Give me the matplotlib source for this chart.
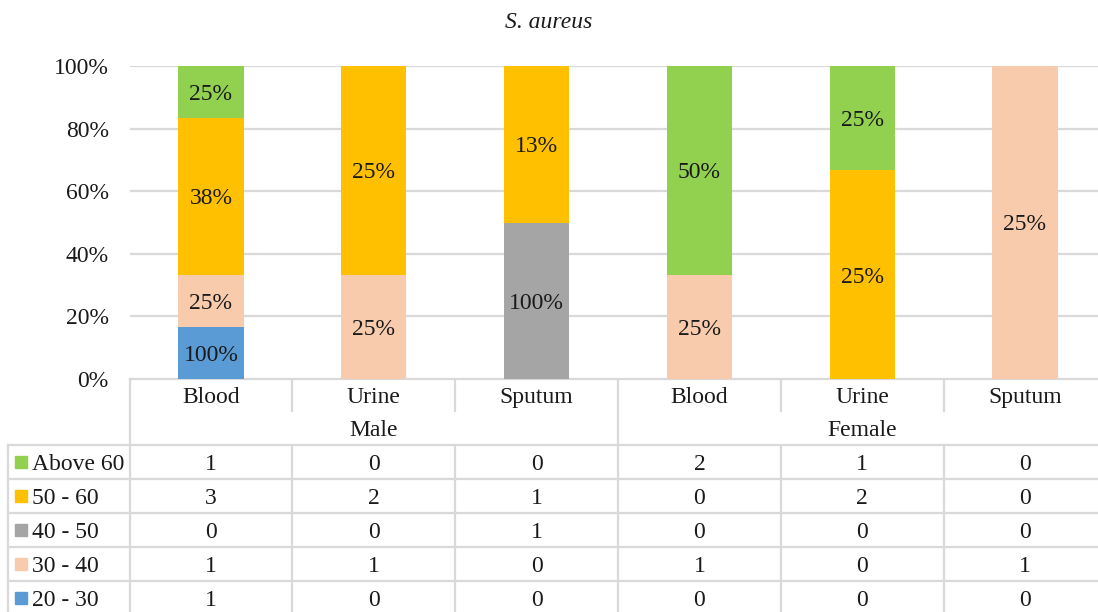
import math
import matplotlib
matplotlib.use("Agg")
import matplotlib.pyplot as plt
from matplotlib.patches import Rectangle

plt.rcParams['font.family'] = ['Liberation Serif', 'DejaVu Serif']

# ---------------- data ----------------
title = "S. aureus"
categories = ["Blood", "Urine", "Sputum", "Blood", "Urine", "Sputum"]
groups = ["Male", "Female"]
series = ["Above 60", "50 - 60", "40 - 50", "30 - 40", "20 - 30"]  # table order (top→bottom)
above60 = [1, 0, 0, 2, 1, 0]
age50_60 = [3, 2, 1, 0, 2, 0]
age40_50 = [0, 0, 1, 0, 0, 0]
age30_40 = [1, 1, 0, 1, 0, 1]
age20_30 = [1, 0, 0, 0, 0, 0]
values = [above60, age50_60, age40_50, age30_40, age20_30]
colors = ["#92D050", "#FFC000", "#A5A5A5", "#F8CBAD", "#5B9BD5"]
yticks = [0, 0.2, 0.4, 0.6, 0.8, 1.0]
ytick_labels = ["0%", "20%", "40%", "60%", "80%", "100%"]

# ---------------- layout (pixels) ----------------
W, H = 1098, 612
plot_left, col_w = 129.6, 162.8
top, bottom = 66, 379
ncol = len(categories)
grid_c = "#d9d9d9"
fs = 17
txt_c = "#1a1a1a"

fig = plt.figure(figsize=(W / 100, H / 100), dpi=100)

ax = fig.add_axes([plot_left / W, (H - bottom) / H, ncol * col_w / W, (bottom - top) / H])
ax.set_xlim(0, ncol)
ax.set_ylim(0, 1)
for s in ax.spines.values():
    s.set_visible(False)
ax.set_yticks(yticks)
ax.set_yticklabels(ytick_labels, fontsize=fs, color=txt_c)
ax.set_xticks([])
ax.tick_params(axis='y', length=0, pad=15)
ax.yaxis.grid(True, color=grid_c, lw=1.6)
ax.set_axisbelow(True)

col_tot = [sum(v[i] for v in values) for i in range(ncol)]
row_tot = [sum(v) for v in values]

# stack from bottom: 20-30 first
xs = [i + 0.5 for i in range(ncol)]
base = [0.0] * ncol
for k in reversed(range(len(series))):
    frac = [values[k][i] / col_tot[i] for i in range(ncol)]
    ax.bar(xs, frac, width=0.4, bottom=base, color=colors[k], zorder=2)
    for i in range(ncol):
        if values[k][i] > 0:
            pct = math.floor(values[k][i] / row_tot[k] * 100 + 0.5)
            ax.text(xs[i], base[i] + frac[i] / 2, f"{pct}%", ha='center', va='center_baseline',
                    fontsize=fs, color=txt_c, zorder=3)
    base = [base[i] + frac[i] for i in range(ncol)]

fig.text(0.5, 1 - 20 / H, title, ha='center', va='center_baseline', fontsize=fs,
         style='italic', color=txt_c)

# ---------------- table ----------------
at = fig.add_axes([0, 0, 1, 1], zorder=-1)
at.set_xlim(0, W)
at.set_ylim(H, 0)
at.axis('off')

lw = 1.6
row_top, row_h = 445, 34
leg_left = 8
edges = [plot_left + k * col_w for k in range(ncol + 1)]

# horizontal lines
at.plot([plot_left, W], [bottom, bottom], color=grid_c, lw=lw)
for r in range(len(series) + 1):
    y = row_top + r * row_h
    at.plot([leg_left, W], [y, y], color=grid_c, lw=lw)
# vertical lines
at.plot([leg_left, leg_left], [row_top, H], color=grid_c, lw=lw)
for k, x in enumerate(edges):
    if k % 3 == 0:
        at.plot([x, x], [bottom, H], color=grid_c, lw=lw)
    else:
        at.plot([x, x], [bottom, 411], color=grid_c, lw=lw)
        at.plot([x, x], [row_top, H], color=grid_c, lw=lw)

# header text
for i, c in enumerate(categories):
    at.text(plot_left + (i + 0.5) * col_w, 395, c, ha='center', va='center_baseline',
            fontsize=fs, color=txt_c)
for g, grp in enumerate(groups):
    at.text(plot_left + (g * 3 + 1.5) * col_w, 428, grp, ha='center', va='center_baseline',
            fontsize=fs, color=txt_c)

# rows
for r, name in enumerate(series):
    yc = row_top + (r + 0.5) * row_h
    at.add_patch(Rectangle((15, yc - 6), 12, 12, color=colors[r]))
    at.text(32, yc, name, ha='left', va='center_baseline', fontsize=fs, color=txt_c)
    for i in range(ncol):
        at.text(plot_left + (i + 0.5) * col_w, yc, str(values[r][i]), ha='center',
                va='center_baseline', fontsize=fs, color=txt_c)

fig.savefig("out.png", dpi=100)
